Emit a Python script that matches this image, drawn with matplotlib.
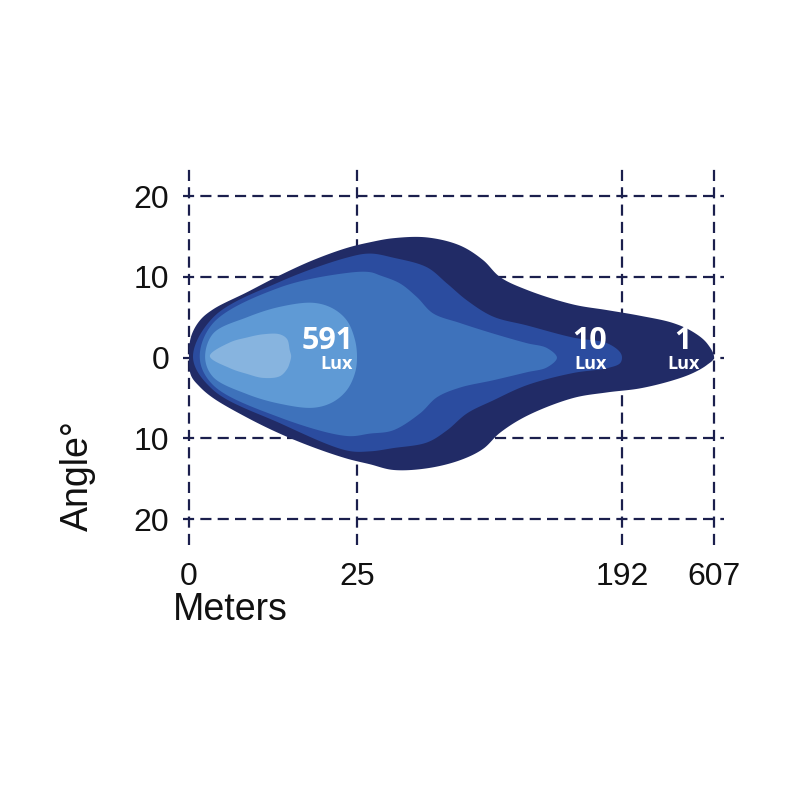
import numpy as np
import matplotlib
matplotlib.use("Agg")
import matplotlib.pyplot as plt
from matplotlib.patches import Polygon

# ---------------- data ----------------
x_ticks_m = [0, 25, 192, 607]          # distance tick labels (meters)
x_tick_pos = [0, 168, 433, 525]        # relative positions of those ticks on the axis
y_ticks_deg = [-20, -10, 0, 10, 20]
y_tick_labels = ["20", "10", "0", "10", "20"]

# iso-lux outlines (meters, degrees), outer -> inner
zone1_m = [0, 0.3, 1.6, 3.6, 8.6, 13.5, 18.5, 23.5, 33.2, 47.7, 69.1, 89.9, 104.4, 115.1,
           132.1, 161.1, 182.5, 273, 422, 512, 575, 607,
           575, 512, 422, 273, 182.5, 161.1, 132.1, 115.1, 104.4, 89.9,
           69.1, 47.7, 33.2, 23.5, 18.5, 13.5, 8.6, 3.6, 1.6, 0.3]
zone1_deg = [0, 2.6, 4.6, 6.0, 8.1, 10.2, 12.1, 13.6, 14.3, 14.8, 14.9, 13.9, 12.1, 10.0,
             8.4, 6.6, 5.9, 5.2, 4.3, 3.2, 1.8, 0,
             -0.9, -1.9, -2.8, -3.8, -4.3, -5.0, -7.2, -9.3, -11.3, -12.7,
             -13.7, -13.9, -13.2, -12.5, -11.1, -9.4, -7.4, -5.0, -3.6, -2.2]

zone2_m = [0.6, 3.6, 13.5, 23.5, 33.2, 47.7, 69.1, 81.7, 94.3, 110.7, 132.1, 161.1,
           182.5, 190.7, 192, 190.7, 182.5, 161.1, 132.1, 110.7, 94.3, 81.7,
           69.1, 47.7, 33.2, 23.5, 13.5, 3.6]
zone2_deg = [0, 5.0, 9.4, 12.4, 12.9, 12.4, 11.2, 9.2, 7.1, 5.1, 4.0, 2.5,
             1.8, 0.7, 0, -0.7, -1.3, -1.9, -3.4, -5.3, -6.9, -9.0,
             -10.5, -11.2, -11.6, -11.5, -8.1, -4.0]

zone3_m = [1.6, 3.6, 13.5, 23.5, 33.2, 39.5, 52.1, 62.8, 72.9, 89.9, 110.7, 132.1,
           144.7, 151.0, 144.7, 132.1, 110.7, 89.9, 75.4, 64.7, 47.7, 33.2, 23.5,
           13.5, 3.6]
zone3_deg = [0, 4.3, 8.7, 10.5, 10.6, 10.2, 9.2, 7.5, 5.5, 4.3, 3.0, 1.8,
             1.2, 0, -1.2, -1.8, -2.8, -3.7, -4.9, -6.9, -9.0, -9.4, -9.7,
             -7.4, -3.4]

zone4_m = [2.4, 3.6, 8.6, 13.5, 18.5, 21.4, 23.5, 24.7, 25.0, 24.7, 23.5, 21.4,
           18.5, 13.5, 8.6, 3.6]
zone4_deg = [0, 3.0, 5.0, 6.3, 6.8, 6.1, 4.6, 2.2, 0, -1.9, -4.0, -5.5,
             -6.2, -5.7, -4.5, -2.4]

zone5_m = [3.1, 6.1, 8.6, 11.0, 13.5, 14.6, 15.0, 15.2, 15.0, 14.6, 13.5, 11.0, 8.6, 6.1]
zone5_deg = [0.2, 1.9, 2.5, 2.9, 2.9, 2.3, 0.9, 0.2, -0.6, -1.4, -2.3, -2.5, -2.0, -1.3]

zone_colors = ["#212b66", "#2b4c9f", "#3e72bb", "#5f9ad5", "#87b4df"]

lux_values = ["591", "10", "1"]
lux_label_m = [20.6, 171.3, 467.0]
lux_unit_m = [22.0, 172.0, 471.0]

# ---------------- scale ----------------
M = np.array(x_ticks_m, float)
P = np.array(x_tick_pos, float)
s0 = (P[1] - P[0]) / (M[1] - M[0])
s1 = (P[-1] - P[-2]) / (M[-1] - M[-2])
M_ext = np.concatenate([[M[0] - 1000], M, [M[-1] + 5000]])
P_ext = np.concatenate([[P[0] - 1000 * s0], P, [P[-1] + 5000 * s1]])


def fwd(m):
    return np.interp(m, M_ext, P_ext)


def inv(p):
    return np.interp(p, P_ext, M_ext)


def smooth_closed(xm, yd, n=24, yscale=8.0):
    """Centripetal Catmull-Rom through the outline, computed in axis-position space."""
    px = fwd(np.asarray(xm, float))
    py = np.asarray(yd, float) * yscale
    pts = np.column_stack([px, py])
    N = len(pts)
    out = []
    for i in range(N):
        p0, p1, p2, p3 = pts[(i - 1) % N], pts[i], pts[(i + 1) % N], pts[(i + 2) % N]
        t0 = 0.0
        t1 = t0 + max(np.linalg.norm(p1 - p0), 1e-6) ** 0.5
        t2 = t1 + max(np.linalg.norm(p2 - p1), 1e-6) ** 0.5
        t3 = t2 + max(np.linalg.norm(p3 - p2), 1e-6) ** 0.5
        t = np.linspace(t1, t2, n, endpoint=False)[:, None]
        a1 = (t1 - t) / (t1 - t0) * p0 + (t - t0) / (t1 - t0) * p1
        a2 = (t2 - t) / (t2 - t1) * p1 + (t - t1) / (t2 - t1) * p2
        a3 = (t3 - t) / (t3 - t2) * p2 + (t - t2) / (t3 - t2) * p3
        b1 = (t2 - t) / (t2 - t0) * a1 + (t - t0) / (t2 - t0) * a2
        b2 = (t3 - t) / (t3 - t1) * a2 + (t - t1) / (t3 - t1) * a3
        c = (t2 - t) / (t2 - t1) * b1 + (t - t1) / (t2 - t1) * b2
        out.append(c)
    out = np.vstack(out)
    return np.column_stack([inv(out[:, 0]), out[:, 1] / yscale])


# ---------------- figure ----------------
plt.rcParams["font.family"] = ["Liberation Sans", "DejaVu Sans"]
fig = plt.figure(figsize=(8, 8), dpi=100)
ax = fig.add_axes([0.22875, 0.31875, 0.67625, 0.47125])
ax.set_xscale("function", functions=(fwd, inv))
ax.set_xlim(inv(-6), inv(535))
ax.set_ylim(-23.2, 23.5)

grid_color = "#1b1f4d"
ax.set_xticks(x_ticks_m)
ax.set_xticklabels([str(v) for v in x_ticks_m])
ax.set_yticks(y_ticks_deg)
ax.set_yticklabels(y_tick_labels)
ax.xaxis.set_minor_locator(matplotlib.ticker.NullLocator())
ax.grid(True, color=grid_color, linestyle=(0, (5, 2.8)), linewidth=1.6)
ax.set_axisbelow(True)
ax.tick_params(length=0, labelsize=23, colors="#111111")
ax.tick_params(axis="y", pad=10)
ax.tick_params(axis="x", pad=12)
for sp in ax.spines.values():
    sp.set_visible(False)

zones = [(zone1_m, zone1_deg), (zone2_m, zone2_deg), (zone3_m, zone3_deg),
         (zone4_m, zone4_deg), (zone5_m, zone5_deg)]
for k, ((zm, zd), col) in enumerate(zip(zones, zone_colors)):
    outline = smooth_closed(zm, zd)
    ax.add_patch(Polygon(outline, closed=True, facecolor=col, edgecolor="none",
                         zorder=3 + k))

for val, xm, xu in zip(lux_values, lux_label_m, lux_unit_m):
    ax.text(xm, 2.05, val, color="white", fontsize=22, fontweight="bold",
            family=["Open Sans", "DejaVu Sans"], ha="center", va="center", zorder=10)
    ax.text(xu, -0.8, "Lux", color="white", fontsize=13, fontweight="bold",
            family=["Open Sans", "DejaVu Sans"], ha="center", va="center", zorder=10)

fig.text(230 / 800, 1 - 610 / 800, "Meters", fontsize=27, ha="center", va="center",
         color="#111111")
fig.text(78 / 800, 1 - 476 / 800, "Angle°", fontsize=27, ha="center", va="center",
         rotation=90, color="#111111")

fig.savefig("out.png", dpi=100, facecolor="white")
